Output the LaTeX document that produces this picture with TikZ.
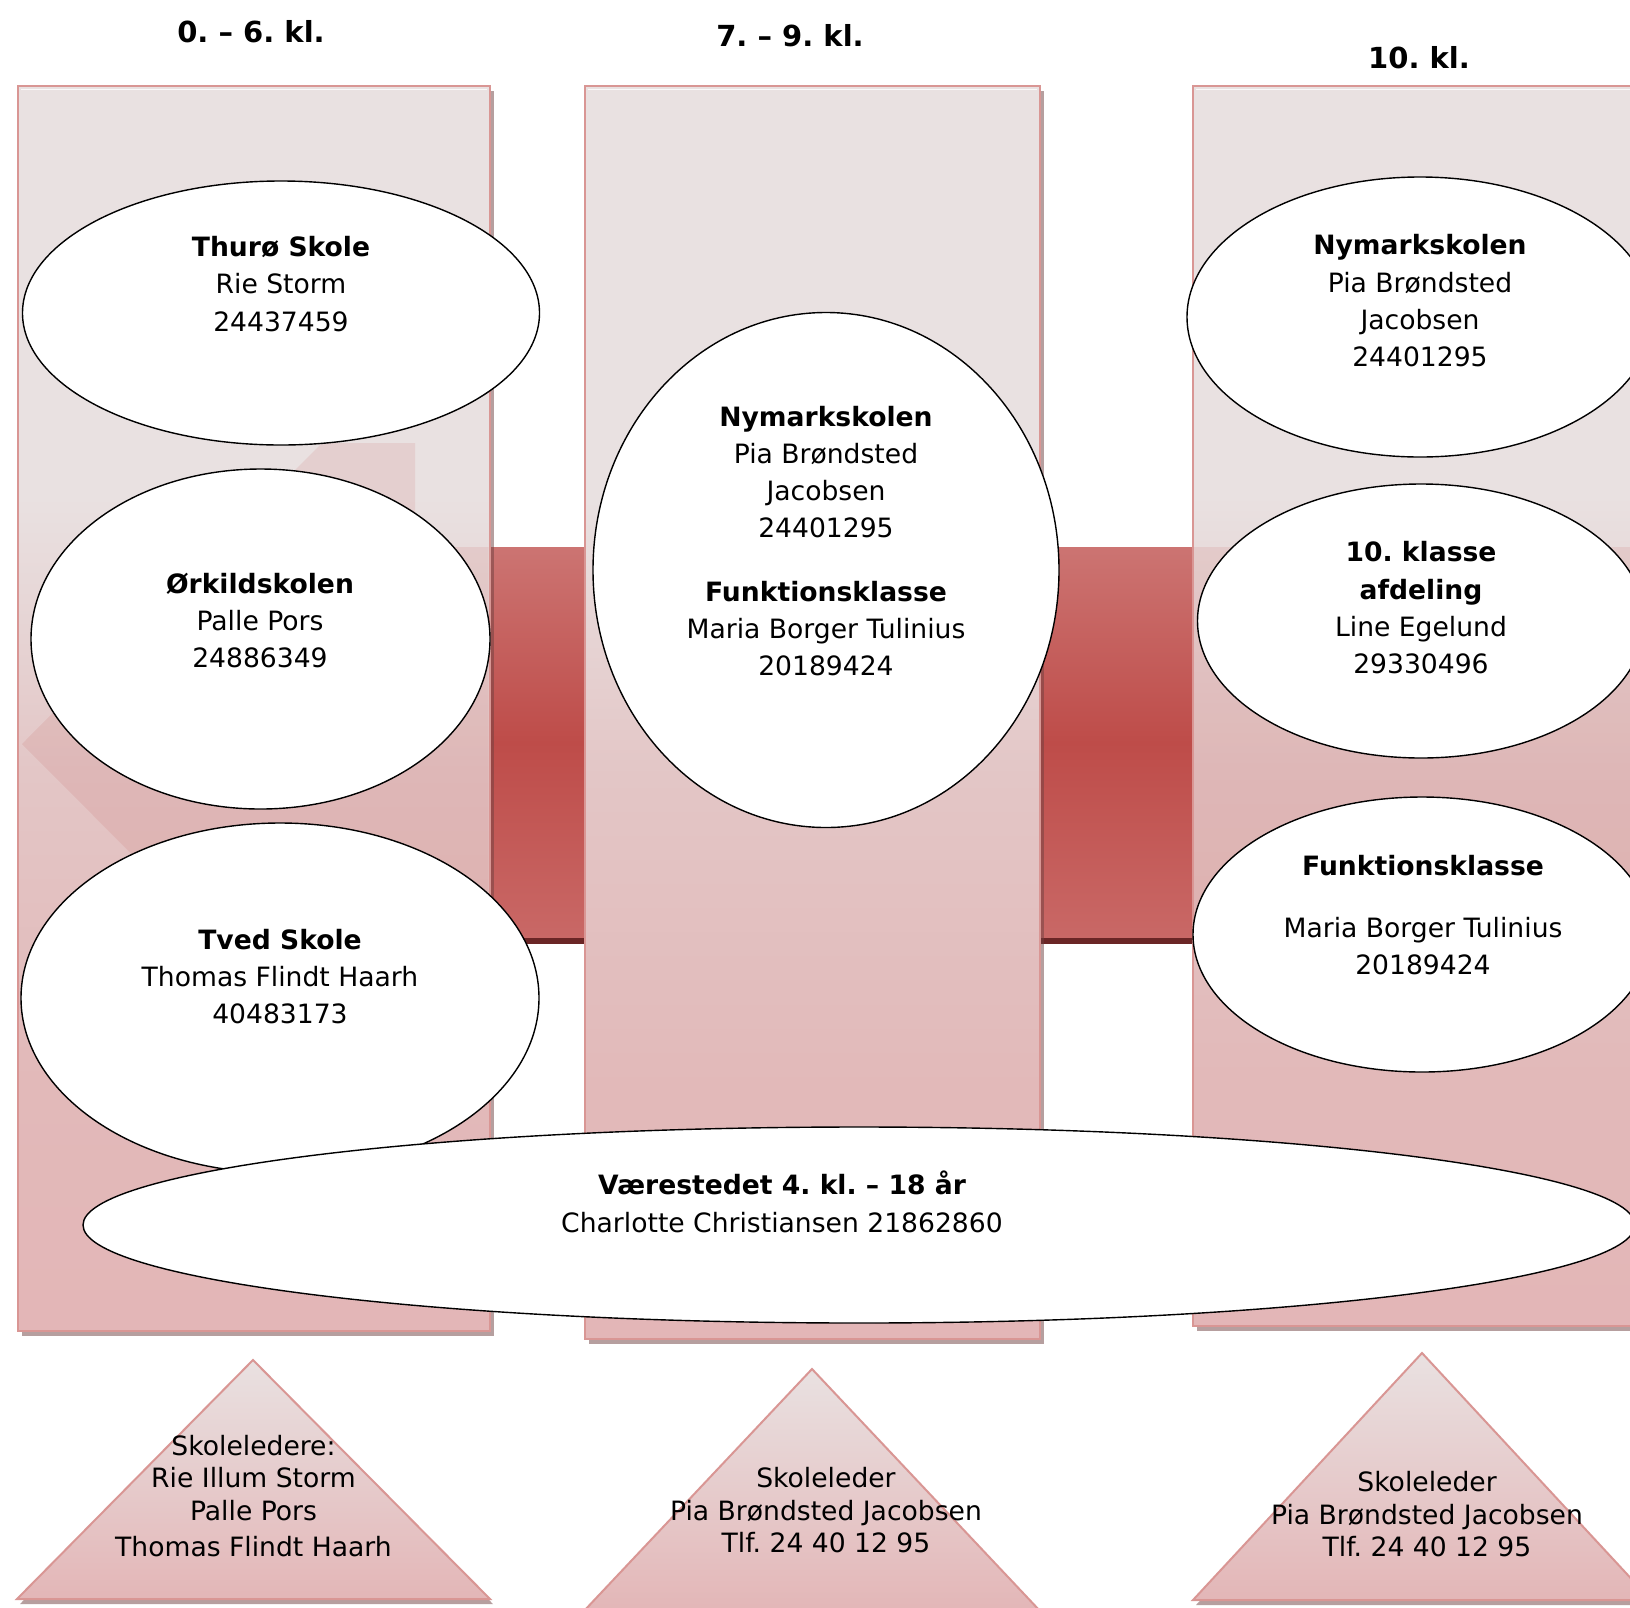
\documentclass[tikz,border=0pt]{standalone}
\usepackage{fontspec}
\setmainfont{DejaVu Sans}
\usetikzlibrary{shapes.geometric}
\definecolor{colTop}{HTML}{E9E1E1}
\definecolor{colMid}{HTML}{E3C6C6}
\definecolor{colLow}{HTML}{E2B9B9}
\definecolor{colBot}{HTML}{E3B6B7}
\definecolor{colBorder}{HTML}{D99694}
\definecolor{bandTop}{HTML}{CC7472}
\definecolor{bandMid}{HTML}{BE4C49}
\definecolor{bandBot}{HTML}{C96866}
\definecolor{bandDark}{HTML}{6B2626}
\definecolor{shadowc}{HTML}{6E4040}
\definecolor{tintc}{HTML}{C0504D}
\pgfdeclareverticalshading{colgrad}{100bp}{color(0bp)=(colBot); color(25bp)=(colBot); color(35bp)=(colLow); color(47.5bp)=(colMid); color(58.5bp)=(colTop); color(75bp)=(colTop); color(100bp)=(colTop)}
\begin{document}
\frenchspacing
\begin{tikzpicture}[x=1pt,y=-1pt,
  bodytext/.style={font=\fontsize{26.6}{37.3}\selectfont, align=center, inner sep=0pt},
  tritext/.style={font=\fontsize{26.6}{32.5}\selectfont, align=center, inner sep=0pt},
  head/.style={font=\fontsize{29}{35}\selectfont\bfseries, inner sep=0pt},
  bubble/.style={ellipse, draw=black, line width=1.4pt, fill=white, inner sep=0pt},
  colshadow/.style={fill=shadowc, fill opacity=0.5},
  column/.style={shade, shading=colgrad, draw=colBorder, line width=2.6pt},
  tri/.style={top color=colTop, bottom color=colBot, draw=colBorder, line width=2pt},
  tint/.style={fill=tintc, fill opacity=0.12},
  hilite/.style={draw=white, line width=1.2pt, opacity=0.8}
]
\useasboundingbox (0,0) rectangle (1630,1607);
\fill[white] (0,0) rectangle (1630,1607);

% band behind the columns
\shade[top color=bandTop, bottom color=bandBot, middle color=bandMid] (480,547) rectangle (1640,938);
\fill[bandDark] (480,938) rectangle (1640,944);

% column shadows
\fill[colshadow] (22,91) rectangle (494,1336);
\fill[colshadow] (589,91) rectangle (1044,1344);
\fill[colshadow] (1197,91) rectangle (1654,1331);

% columns
\path[column] (18,86) rectangle (490,1331);
\path[column] (585,86) rectangle (1040,1339);
\path[column] (1193,86) rectangle (1650,1326);
\draw[hilite] (21,89.5) -- (487,89.5);
\draw[hilite] (588,89.5) -- (1037,89.5);
\draw[hilite] (1196,89.5) -- (1630,89.5);

% faint arrow seen through the side columns
\begin{scope}
  \clip (19.3,87.3) rectangle (488.7,1329.7);
  \fill[tint] (22,744) -- (322,443) -- (415,443) -- (415,547) -- (500,547) -- (500,941) -- (415,941) -- (415,1045) -- (322,1045) -- cycle;
\end{scope}
\fill[tint] (1194.3,547) rectangle (1630,941);

% headings
\node[head] (h1) at (251,32) {0. – 6. kl.};
\node[head] (h2) at (790,36) {7. – 9. kl.};
\node[head] (h3) at (1419,58) {10. kl.};

% ellipses
\node[bubble, minimum width=517pt, minimum height=264pt] (thuro) at (281,313) {};
\node[bubble, minimum width=459pt, minimum height=340pt] (orkild) at (260.5,639) {};
\node[bubble, minimum width=518pt, minimum height=350pt] (tved) at (280,998) {};
\node[bubble, minimum width=466pt, minimum height=515pt] (mid) at (826,570) {};
\node[bubble, minimum width=466pt, minimum height=280pt] (rnym) at (1420,317) {};
\node[bubble, minimum width=447pt, minimum height=274pt] (rten) at (1421,621) {};
\node[bubble, minimum width=458pt, minimum height=275pt] (rfunk) at (1422,934.5) {};
\node[bubble, minimum width=1552pt, minimum height=196pt] (vaer) at (859,1225) {};

% ellipse texts
\node[bodytext] (thuroT) at (281,284) {\textbf{Thurø Skole}\\Rie Storm\\24437459};
\node[bodytext] (orkildT) at (260,620.5) {\textbf{Ørkildskolen}\\Palle Pors\\24886349};
\node[bodytext] (tvedT) at (280,976.5) {\textbf{Tved Skole}\\Thomas Flindt Haarh\\40483173};
\node[bodytext] (midT) at (826,541) {\textbf{Nymarkskolen}\\Pia Brøndsted\\Jacobsen\\24401295\\[26pt]\textbf{Funktionsklasse}\\Maria Borger Tulinius\\20189424};
\node[bodytext] (rnymT) at (1420,301) {\textbf{Nymarkskolen}\\Pia Brøndsted\\Jacobsen\\24401295};
\node[bodytext] (rtenT) at (1421,608) {\textbf{10. klasse}\\\textbf{afdeling}\\Line Egelund\\29330496};
\node[bodytext] (rfunkT) at (1423,915) {\textbf{Funktionsklasse}\\[25pt]Maria Borger Tulinius\\20189424};
\node[bodytext] (vaerT) at (782,1202) {\textbf{Værestedet 4. kl. – 18 år}\\Charlotte Christiansen 21862860};

% triangles
\fill[colshadow] (20,1604) -- (256,1365) -- (493,1604) -- cycle;
\path[tri] (17,1599) -- (253,1360) -- (490,1599) -- cycle;
\path[tri] (583,1612) -- (812,1369) -- (1041,1612) -- cycle;
\fill[colshadow] (1196,1605) -- (1425,1358) -- (1654,1605) -- cycle;
\path[tri] (1193,1600) -- (1422,1353) -- (1651,1600) -- cycle;

\node[tritext] (triL) at (253.5,1496) {Skoleledere:\\Rie Illum Storm\\Palle Pors\\[4pt]Thomas Flindt Haarh};
\node[tritext] (triM) at (826,1510.5) {Skoleleder\\Pia Brøndsted Jacobsen\\Tlf. 24 40 12 95};
\node[tritext] (triR) at (1427,1514.5) {Skoleleder\\Pia Brøndsted Jacobsen\\Tlf. 24 40 12 95};
\end{tikzpicture}
\end{document}
